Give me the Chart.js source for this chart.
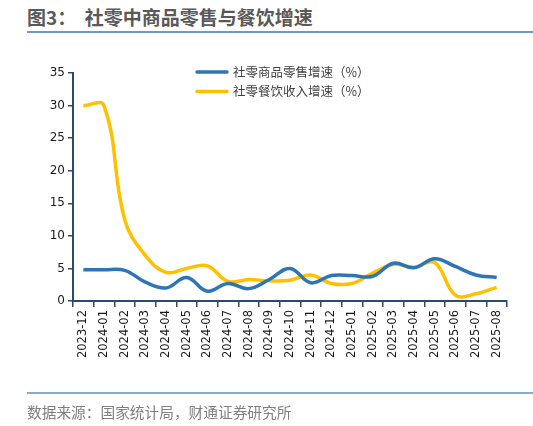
<!DOCTYPE html>
<html>
<head>
<meta charset="utf-8">
<script src="https://cdn.jsdelivr.net/npm/chart.js@4.4.0/dist/chart.umd.min.js"></script>
<style>
  html, body { margin: 0; padding: 0; background: #fff; width: 533px; height: 426px; overflow: hidden; }
  #title { position: absolute; left: 27px; top: 4px; font: bold 19px "Noto Sans CJK SC", sans-serif; color: #595959; white-space: pre; line-height: 26px; }
  #topline { position: absolute; left: 27px; top: 31px; width: 506px; height: 2px; background: #7196c9; }
  #botline { position: absolute; left: 27px; top: 392px; width: 506px; height: 1.5px; background: #8ba8d2; }
  #source { position: absolute; left: 27px; top: 401px; font: 14.7px "Noto Sans CJK SC", sans-serif; color: #7f7f7f; white-space: pre; line-height: 22px; }
  #wrap { position: absolute; left: 0; top: 0; width: 533px; height: 426px; }
</style>
</head>
<body>
<div id="title">图3：  社零中商品零售与餐饮增速</div>
<div id="topline"></div>
<div id="wrap"><canvas id="c" width="533" height="426"></canvas></div>
<div id="botline"></div>
<div id="source">数据来源：国家统计局，财通证券研究所</div>
<script>
const categories = ["2023-12","2024-01","2024-02","2024-03","2024-04","2024-05","2024-06","2024-07","2024-08","2024-09","2024-10","2024-11","2024-12","2025-01","2025-02","2025-03","2025-04","2025-05","2025-06","2025-07","2025-08"];
const goodsLabel = "社零商品零售增速（%）";
const cateringLabel = "社零餐饮收入增速（%）";
const goodsGrowth = [4.8, 4.8, 4.7, 2.9, 2.0, 3.6, 1.5, 2.7, 1.9, 3.3, 5.0, 2.8, 3.9, 3.9, 3.8, 5.8, 5.1, 6.5, 5.3, 4.0, 3.6];
const cateringGrowth = [30.0, 30.0, 12.5, 7.0, 4.4, 5.0, 5.4, 3.0, 3.3, 3.1, 3.2, 4.0, 2.7, 2.7, 4.3, 5.6, 5.2, 5.9, 0.9, 1.1, 2.1];
const yTicks = [0, 5, 10, 15, 20, 25, 30, 35];

const axisColor = "#2c4a6e";

const legendPlugin = {
  id: "vlegend",
  afterDraw(chart) {
    const ctx = chart.ctx;
    const x0 = 197, x1 = 227, tx = 233;
    const ys = [72, 91.5];
    ctx.save();
    chart.data.datasets.forEach((ds, i) => {
      ctx.strokeStyle = ds.borderColor;
      ctx.lineWidth = 3.5;
      ctx.lineCap = "round";
      ctx.beginPath();
      ctx.moveTo(x0, ys[i]);
      ctx.lineTo(x1, ys[i]);
      ctx.stroke();
      ctx.fillStyle = "#404040";
      ctx.font = '12.5px "Noto Sans CJK SC", sans-serif';
      ctx.textBaseline = "middle";
      ctx.textAlign = "left";
      ctx.fillText(ds.label, tx, ys[i]);
    });
    ctx.restore();
  }
};

new Chart(document.getElementById("c"), {
  type: "line",
  data: {
    labels: categories,
    datasets: [
      { label: goodsLabel, data: goodsGrowth, borderColor: "#2E75B6", backgroundColor: "#2E75B6", borderWidth: 3.5, pointRadius: 0, tension: 0.4, fill: false },
      { label: cateringLabel, data: cateringGrowth, borderColor: "#FFC000", backgroundColor: "#FFC000", borderWidth: 3.5, pointRadius: 0, tension: 0.4, fill: false }
    ]
  },
  options: {
    responsive: false,
    animation: false,
    devicePixelRatio: 1,
    layout: { padding: { left: 0, right: 26, top: 73, bottom: 55 } },
    plugins: { legend: { display: false }, tooltip: { enabled: false }, title: { display: false } },
    scales: {
      x: {
        type: "category",
        offset: true,
        grid: { offset: true, drawOnChartArea: false, drawTicks: true, tickLength: 6, color: axisColor, lineWidth: 1.5 },
        border: { display: true, color: axisColor, width: 2 },
        ticks: { minRotation: 90, maxRotation: 90, autoSkip: false, padding: 3, color: "#1a1a1a", font: { family: "DejaVu Sans", size: 11.5 } },
        afterFit(scale) { scale.height = 70; }
      },
      y: {
        min: 0, max: 35,
        afterBuildTicks(scale) { scale.ticks = yTicks.map(v => ({ value: v })); },
        grid: { drawOnChartArea: false, drawTicks: true, tickLength: 5, color: axisColor, lineWidth: 1.5 },
        border: { display: true, color: axisColor, width: 2 },
        ticks: { padding: 3, color: "#1a1a1a", font: { family: "DejaVu Sans", size: 12 } },
        afterFit(scale) { scale.width = 73; }
      }
    }
  },
  plugins: [legendPlugin]
});
</script>
</body>
</html>
